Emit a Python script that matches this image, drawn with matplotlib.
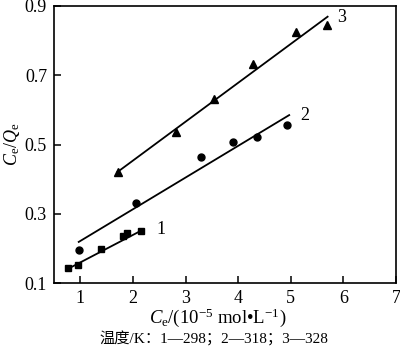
import matplotlib
matplotlib.use("Agg")
import matplotlib.pyplot as plt

plt.rcParams["font.family"] = ["Liberation Serif", "Noto Sans CJK SC"]
plt.rcParams["mathtext.fontset"] = "custom"
plt.rcParams["mathtext.rm"] = "Liberation Serif"
plt.rcParams["mathtext.it"] = "Liberation Serif:italic"

# series 1 (298 K), squares
x1 = [0.77, 0.96, 1.40, 1.82, 1.89, 2.16]
y1 = [0.144, 0.152, 0.200, 0.236, 0.244, 0.251]
fit1_x = [0.75, 2.20]
fit1_y = [0.140, 0.255]

# series 2 (318 K), circles
x2 = [0.98, 2.06, 3.30, 3.91, 4.36, 4.93]
y2 = [0.195, 0.332, 0.465, 0.506, 0.523, 0.556]
fit2_x = [0.97, 4.97]
fit2_y = [0.219, 0.585]

# series 3 (328 K), triangles
x3 = [1.71, 2.82, 3.54, 4.29, 5.09, 5.68]
y3 = [0.421, 0.537, 0.632, 0.732, 0.826, 0.846]
fit3_x = [1.70, 5.70]
fit3_y = [0.420, 0.869]

labels = ["1", "2", "3"]
label_pos = [(2.45, 0.256), (5.18, 0.585), (5.88, 0.866)]

xticks = [1, 2, 3, 4, 5, 6, 7]
yticks = [0.1, 0.3, 0.5, 0.7, 0.9]

fig = plt.figure(figsize=(4, 3.5), dpi=100)
ax = fig.add_axes([0.135, 0.191, 0.855, 0.792])

ax.plot(fit1_x, fit1_y, color="black", lw=1.3)
ax.plot(fit2_x, fit2_y, color="black", lw=1.3)
ax.plot(fit3_x, fit3_y, color="black", lw=1.3)
ax.plot(x1, y1, "s", color="black", ms=5)
ax.plot(x2, y2, "o", color="black", ms=5)
ax.plot(x3, y3, "^", color="black", ms=6)

for lab, (lx, ly) in zip(labels, label_pos):
    ax.text(lx, ly, lab, fontsize=13, ha="left", va="center")

ax.set_xlim(0.5, 7)
ax.set_ylim(0.1, 0.9)
ax.set_xticks(xticks)
ax.set_yticks(yticks)
ax.set_yticklabels(["0.1", "0.3", "0.5", "0.7", "0.9"])
ax.tick_params(direction="in", length=5, width=1.1, labelsize=13, pad=5)
for s in ax.spines.values():
    s.set_linewidth(1.2)

ax.set_ylabel(r"$C_{\rm e}/Q_{\rm e}$", fontsize=13, labelpad=2)
fig.text(0.545, 0.092, r"$C_{\rm e}$/(10$^{-5}$ mol•L$^{-1}$)", fontsize=13.5,
         ha="center", va="center")
fig.text(0.535, 0.03, "温度/K：1—298；2—318；3—328", fontsize=11,
         ha="center", va="center")

fig.savefig("out.png", dpi=100)
